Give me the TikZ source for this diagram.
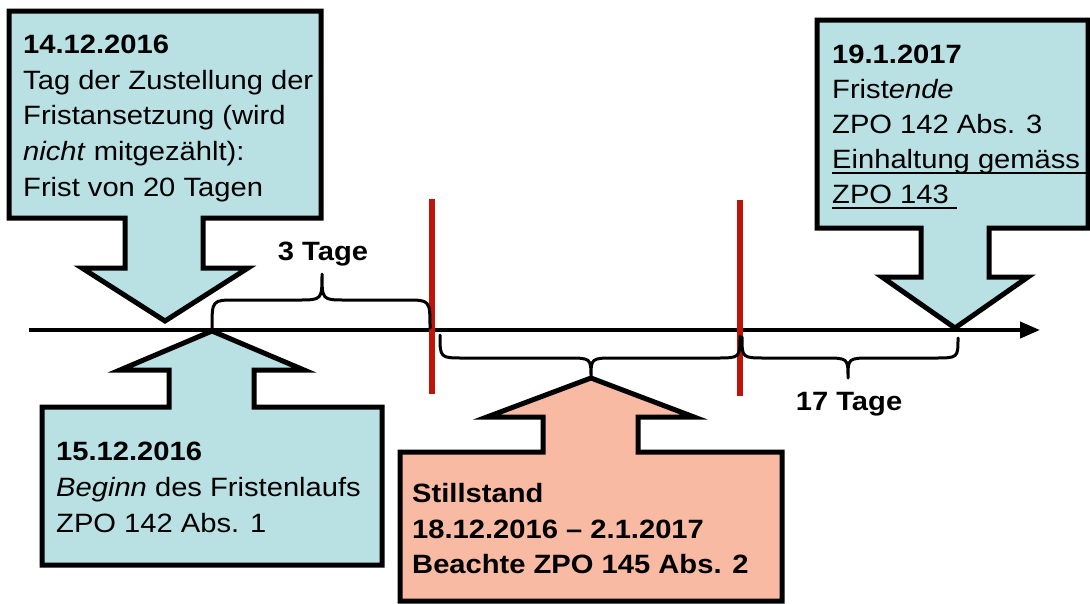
\documentclass[tikz,border=0pt]{standalone}
\usepackage{fontspec}
\setmainfont[FakeStretch=1.1]{Liberation Sans}
\usetikzlibrary{arrows.meta}
\definecolor{callblue}{RGB}{185,224,227}
\definecolor{callsalmon}{RGB}{249,186,164}
\definecolor{stopred}{RGB}{192,20,10}
\newcommand\myuline[1]{\setbox0\hbox{#1}\rlap{\rule[-6pt]{\wd0}{1.6pt}}\box0}
\begin{document}
\begin{tikzpicture}[x=1pt,y=-1pt,
  callout/.style={draw=black,line width=5pt,line join=miter,miter limit=10,fill=callblue},
  calloutred/.style={callout,fill=callsalmon},
  txt/.style={anchor=base west,inner sep=0pt,font=\fontsize{26.5}{36}\selectfont},
  lbl/.style={anchor=base,inner sep=0pt,font=\fontsize{26.5}{36}\selectfont\bfseries},
  axisline/.style={line width=4pt,-{Triangle[length=20pt,width=16pt]}},
  stopline/.style={draw=stopred,line width=6pt},
  bracepath/.style={line width=3pt,line cap=round,line join=round}]
\path[use as bounding box] (0,0) rectangle (1090,603);
\begin{scope}
\clip (0,0) rectangle (1090,603);
% time axis
\coordinate (axstart) at (29,330);
\coordinate (axend) at (1040,330);
\draw[axisline] (axstart) -- (axend);
% red stop lines
\coordinate (r1t) at (432,199);
\coordinate (r1b) at (432,394);
\coordinate (r2t) at (740,200);
\coordinate (r2b) at (740,396);
\draw[stopline] (r1t) -- (r1b);
\draw[stopline] (r2t) -- (r2b);
% callout 1 (top left)
\draw[callout] (9,11) -- (321,11) -- (321,218) -- (203,218) -- (203,268) -- (248,268) -- (165,321) -- (82,268) -- (125,268) -- (125,218) -- (9,218) -- cycle;
\node[txt] (a1) at (23,53) {\textbf{14.12.2016}};
\node[txt] (a2) at (23,89) {Tag der Zustellung der};
\node[txt] (a3) at (23,124) {Fristansetzung (wird};
\node[txt] (a4) at (23,160) {\textit{nicht} mitgezählt):};
\node[txt] (a5) at (23,196) {Frist von 20 Tagen};
% callout 2 (top right)
\draw[callout] (817,20) -- (1088,20) -- (1088,228) -- (989,228) -- (989,277) -- (1028,277) -- (955,328) -- (882,277) -- (921,277) -- (921,228) -- (817,228) -- cycle;
\node[txt] (b1) at (832,63) {\textbf{19.1.2017}};
\node[txt] (b2) at (832,98) {Frist\textit{ende}};
\node[txt] (b3) at (832,133) {ZPO 142 Abs. 3};
\node[txt] (b4) at (832,168) {\myuline{Einhaltung gemäss\hspace{12pt}}};
\node[txt] (b5) at (832,203) {\myuline{ZPO 143 }};
% callout 3 (bottom left)
\draw[callout] (42,407) -- (42,565) -- (382,565) -- (382,407) -- (254,407) -- (254,370) -- (304,370) -- (212,331) -- (120,370) -- (169,370) -- (169,407) -- cycle;
\node[txt] (c1) at (56,460) {\textbf{15.12.2016}};
\node[txt] (c2) at (56,496) {\textit{Beginn} des Fristenlaufs};
\node[txt] (c3) at (56,532) {ZPO 142 Abs. 1};
% callout 4 (Stillstand)
\draw[calloutred] (400,452) -- (400,601) -- (782,601) -- (782,452) -- (638,452) -- (638,417) -- (694,417) -- (591,378) -- (487,417) -- (543,417) -- (543,452) -- cycle;
\node[txt,font=\fontsize{26.5}{36}\selectfont\bfseries] (d1) at (412,502) {Stillstand};
\node[txt,font=\fontsize{26.5}{36}\selectfont\bfseries] (d2) at (412,538) {18.12.2016 – 2.1.2017};
\node[txt,font=\fontsize{26.5}{36}\selectfont\bfseries] (d3) at (412,573) {Beachte ZPO 145 Abs. 2};
% braces
\draw[bracepath] (212,328) .. controls (212,300) .. (236,300) -- (298,300) .. controls (322,300) .. (322,274) .. controls (322,300) .. (346,300) -- (406,300) .. controls (430,300) .. (430,328);
\draw[bracepath] (440,335) .. controls (440,358) .. (464,358) -- (567,358) .. controls (591,358) .. (591,378) .. controls (591,358) .. (615,358) -- (716,358) .. controls (740,358) .. (740,336);
\draw[bracepath] (742,337) .. controls (742,358) .. (766,358) -- (824,358) .. controls (848,358) .. (848,378) .. controls (848,358) .. (872,358) -- (934,358) .. controls (958,358) .. (958,338);
\node[lbl] (t3) at (323,260) {3 Tage};
\node[lbl] (t17) at (849,410) {17 Tage};
\end{scope}
\end{tikzpicture}
\end{document}
